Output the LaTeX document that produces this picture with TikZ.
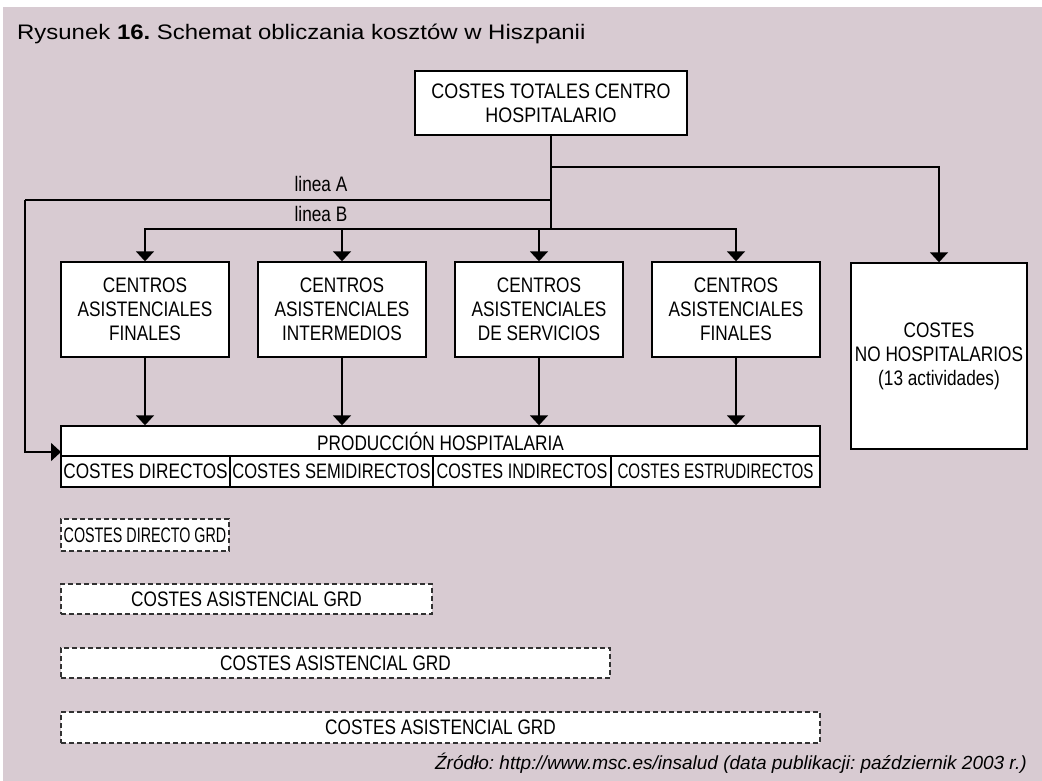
\documentclass[tikz,border=0pt]{standalone}
\usepackage{fontspec}
\usepackage{graphicx}
\setmainfont{Liberation Sans}
\newfontfamily\narrowfont[FakeStretch=0.82]{Liberation Sans}
\usetikzlibrary{arrows.meta}
\definecolor{bgmauve}{RGB}{216,203,210}
\definecolor{dashgray}{RGB}{50,50,50}
\frenchspacing
\begin{document}
\begin{tikzpicture}[x=1pt,y=-1pt,
  boxfont/.style={font=\narrowfont\fontsize{21}{24}\selectfont},
  solidbox/.style={boxfont, draw=black, line width=1.4pt, fill=white, inner sep=0pt, align=center},
  dashbox/.style={boxfont, draw=dashgray, line width=1.3pt, dash pattern=on 5pt off 3pt, fill=white, inner sep=0pt, align=center},
  link/.style={line width=1.6pt, draw=black},
  arr/.style={link, -{Triangle[width=18pt,length=10pt]}},
  lbl/.style={boxfont, inner sep=0pt}]

% page and background
\useasboundingbox (0,0) rectangle (1042,781);
\fill[white] (0,0) rectangle (1042,781);
\fill[bgmauve] (3,7) rectangle (1042,781);

% caption and source line
\node[anchor=base west, inner sep=0pt, font=\fontsize{21}{25}\selectfont] (title) at (17,40)
  {\scalebox{1.14}[1]{Rysunek \textbf{16.} Schemat obliczania kosztów w Hiszpanii}};
\node[anchor=base east, inner sep=0pt, font=\itshape\fontsize{19}{23}\selectfont] (src) at (1027,769)
  {Źródło: http://www.msc.es/insalud (data publikacji: październik 2003 r.)};

% top box
\node[solidbox, minimum width=272pt, minimum height=64pt] (top) at (551,103)
  {\scalebox{1.04}[1]{COSTES TOTALES CENTRO}\\\scalebox{1.04}[1]{HOSPITALARIO}};

% cost centres
\node[solidbox, minimum width=168pt, minimum height=95pt] (c1) at (145,309.5)
  {CENTROS\\ASISTENCIALES\\FINALES};
\node[solidbox, minimum width=168pt, minimum height=95pt] (c2) at (342,309.5)
  {CENTROS\\ASISTENCIALES\\INTERMEDIOS};
\node[solidbox, minimum width=168pt, minimum height=95pt] (c3) at (539,309.5)
  {CENTROS\\ASISTENCIALES\\DE SERVICIOS};
\node[solidbox, minimum width=168pt, minimum height=95pt] (c4) at (736,309.5)
  {CENTROS\\ASISTENCIALES\\FINALES};

% non-hospital costs
\node[solidbox, minimum width=176pt, minimum height=186pt] (nh) at (939,356)
  {COSTES\\NO HOSPITALARIOS\\(13 actividades)};

% hospital production table
\node[solidbox, minimum width=759pt, minimum height=30pt] (prodH) at (440.5,441)
  {PRODUCCIÓN HOSPITALARIA};
\node[solidbox, minimum width=169pt, minimum height=31pt] (d1) at (145.5,471.5)
  {COSTES DIRECTOS};
\node[solidbox, minimum width=203pt, minimum height=31pt] (d2) at (331.5,471.5)
  {\scalebox{0.96}[1]{COSTES SEMIDIRECTOS}};
\node[solidbox, minimum width=178pt, minimum height=31pt] (d3) at (522,471.5)
  {\scalebox{0.94}[1]{COSTES INDIRECTOS}};
\node[solidbox, minimum width=209pt, minimum height=31pt] (d4) at (715.5,471.5)
  {\scalebox{0.88}[1]{COSTES ESTRUDIRECTOS}};

% GRD cost boxes
\node[dashbox, minimum width=168pt, minimum height=32pt] (g1) at (145,535)
  {\scalebox{0.83}[1]{COSTES DIRECTO GRD}};
\node[dashbox, minimum width=371pt, minimum height=30pt] (g2) at (246.5,599)
  {COSTES ASISTENCIAL GRD};
\node[dashbox, minimum width=549pt, minimum height=30pt] (g3) at (335.5,663)
  {COSTES ASISTENCIAL GRD};
\node[dashbox, minimum width=759pt, minimum height=31pt] (g4) at (440.5,727.5)
  {COSTES ASISTENCIAL GRD};

% branch points
\coordinate (jC) at (551,167);
\coordinate (jA) at (551,200);
\coordinate (jB) at (551,229);
\coordinate (aTurn) at (25,200);
\coordinate (aEnd) at (61,452);

% connectors
\draw[link] (top.south) -- (jB);
\draw[arr] (jC) -| (nh.north);
\draw[link] (jA) -- (aTurn);
\draw[arr] (aTurn) |- (aEnd);
\foreach \c in {c1,c2,c3,c4}{
  \draw[arr] (jB) -| (\c.north);
  \draw[arr] (\c.south) -- (\c.south |- prodH.north);
}

% line labels
\node[lbl, anchor=base] (la) at (321,191) {linea A};
\node[lbl, anchor=base] (lb) at (321,222) {linea B};
\end{tikzpicture}
\end{document}
